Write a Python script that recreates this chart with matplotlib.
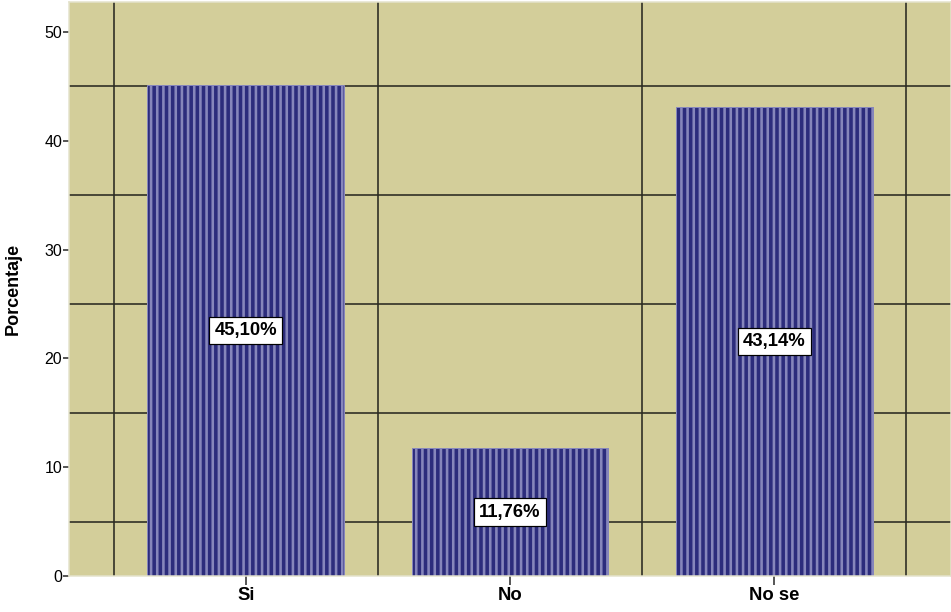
import numpy as np
import matplotlib.pyplot as plt

categorias = ['Si', 'No', 'No se']
porcentajes = [45.10, 11.76, 43.14]
etiquetas = ['45,10%', '11,76%', '43,14%']

DPI = 111
def pt(px):
    return px * 72.0 / DPI

plt.rcParams['font.family'] = ['Liberation Sans', 'DejaVu Sans']
plt.rcParams['hatch.color'] = '#8686bb'
plt.rcParams['hatch.linewidth'] = pt(2.6)

fig = plt.figure(figsize=(951 / DPI, 612 / DPI), dpi=DPI)
ax = fig.add_axes([69 / 951, 36 / 612, 882 / 951, 574 / 612])
ax.set_facecolor('#d3ce9a')

x = np.arange(len(categorias))
barras = ax.bar(x, porcentajes, width=0.746, color='#2c2c7c',
                edgecolor='#8686bb', linewidth=pt(1), hatch='|||', zorder=2)

for xi, v, txt in zip(x, porcentajes, etiquetas):
    ax.text(xi, v / 2, txt, ha='center', va='center', fontsize=pt(18.5),
            fontweight='bold', zorder=4,
            bbox=dict(boxstyle='square,pad=0.28', facecolor='white',
                      edgecolor='black', linewidth=pt(1.2)))

ax.set_xlim(-0.67, 2.67)
ax.set_ylim(0, 52.75)

ax.set_yticks([0, 10, 20, 30, 40, 50])
ax.set_yticks([5, 15, 25, 35, 45], minor=True)
ax.set_xticks(x)
ax.set_xticklabels(categorias, fontweight='bold', fontsize=pt(18.5))
ax.set_xticks([-0.5, 0.5, 1.5, 2.5], minor=True)

ax.tick_params(axis='y', which='major', length=pt(6), width=pt(1.5),
               labelsize=pt(16), pad=pt(1), color='#222222')
ax.tick_params(axis='x', which='major', length=pt(9), width=pt(1.5),
               pad=pt(2), color='#222222')
ax.tick_params(which='minor', length=0)

ax.grid(which='minor', color='#2a2a22', linewidth=pt(1.6), zorder=1)
ax.set_axisbelow(True)

for s in ax.spines.values():
    s.set_color('#e4e2cc')
    s.set_linewidth(pt(1.5))

ax.set_ylabel('Porcentaje', fontweight='bold', fontsize=pt(18))
ax.yaxis.set_label_coords(-47 / 882, 0.5)

fig.savefig('out.png', dpi=DPI)
